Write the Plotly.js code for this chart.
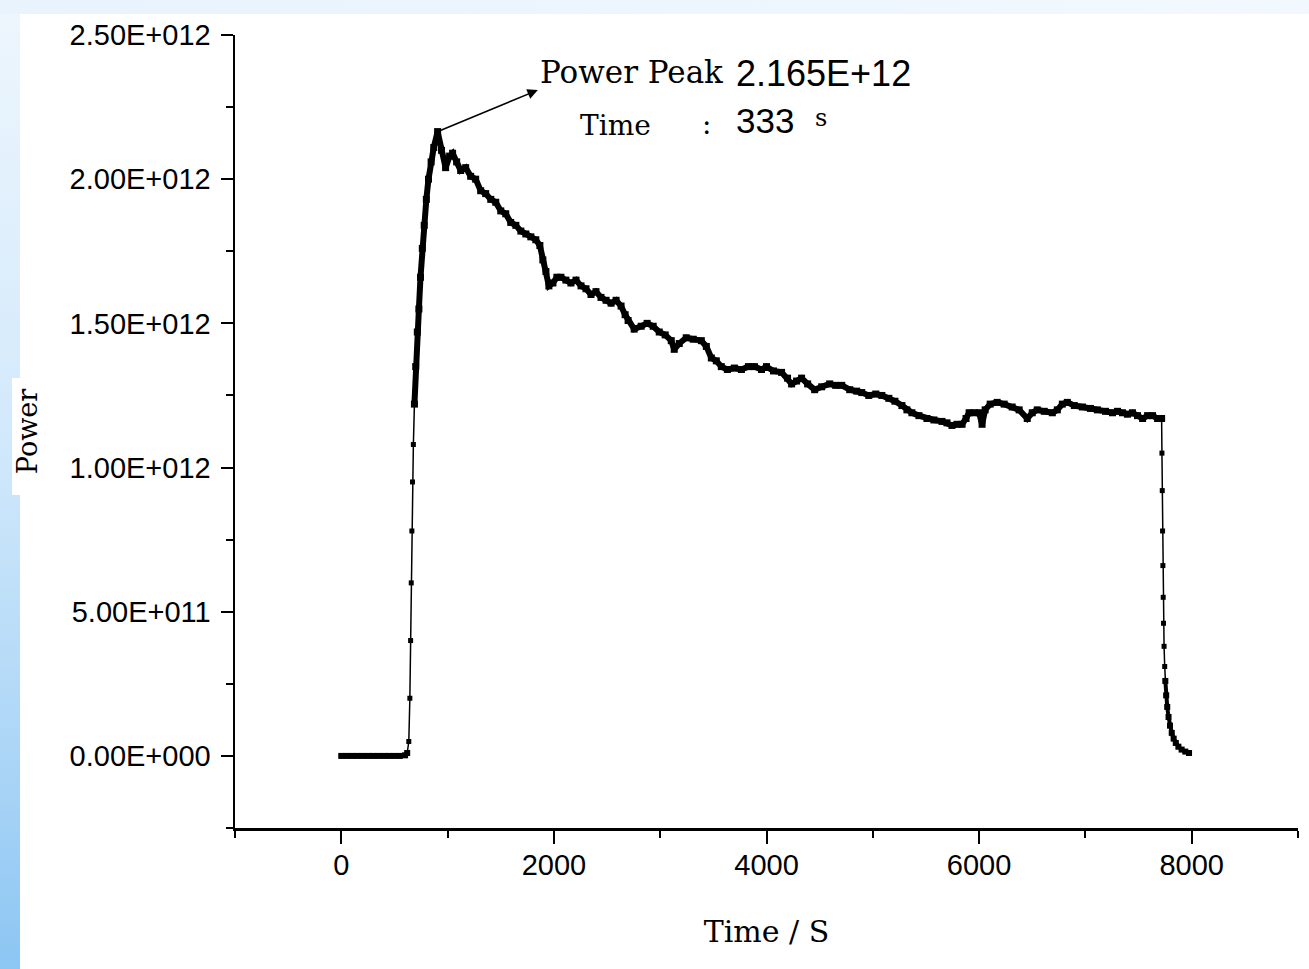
<!DOCTYPE html>
<html>
<head>
<meta charset="utf-8">
<script src="https://cdn.plot.ly/plotly-3.0.1.min.js"></script>
<style>
  html, body { margin: 0; padding: 0; }
  #frame {
    position: relative; width: 1309px; height: 969px; overflow: hidden;
    background: linear-gradient(to bottom, #eef6fd 0%, #d2e9fb 45%, #a9d4f6 80%, #8cc6f3 100%);
  }
  #topstrip {
    position: absolute; left: 0; top: 0; width: 1309px; height: 14px;
    background: linear-gradient(to right, #e8f3fd 0%, #f2f8fe 100%);
  }
  #white { position: absolute; left: 20px; top: 14px; width: 1289px; height: 955px; background: #fff; }
  #titlebox { position: absolute; left: 12px; top: 378px; width: 40px; height: 117px; background: #fff; }
  #chart { position: absolute; left: 0; top: 0; width: 1309px; height: 969px; }
</style>
</head>
<body>
<div id="frame"><div id="topstrip"></div><div id="white"></div><div id="titlebox"></div><div id="chart"></div></div>
<script>
// Time in seconds
const timeS = [
  0, 50, 100, 150, 200, 250, 300, 350, 400, 450, 500, 550, 600, 620,
  635, 645, 652, 658, 664, 670, 678, 688, 700, 715, 730, 745, 762, 780, 800, 820, 845, 870, 906,
  943, 981, 1019, 1047, 1085, 1123, 1170, 1217, 1264, 1311, 1358, 1406, 1453, 1500, 1547, 1594,
  1642, 1689, 1736, 1783, 1830, 1868, 1896, 1925, 1953, 1991, 2028, 2066, 2113, 2160, 2208, 2255,
  2302, 2349, 2396, 2443, 2491, 2538, 2585, 2632, 2670, 2698, 2755, 2821, 2877, 2934, 2991, 3047,
  3104, 3132, 3179, 3245, 3311, 3387, 3434, 3481, 3528, 3575, 3632, 3698, 3764, 3830, 3887, 3953,
  4000, 4066, 4142, 4198, 4236, 4283, 4330, 4387, 4453, 4519, 4594, 4651, 4708, 4783, 4849, 4896,
  4962, 5028, 5085, 5151, 5208, 5274, 5321, 5368, 5434, 5509, 5575, 5651, 5698, 5745, 5792, 5840,
  5877, 5906, 5953, 6000, 6028, 6057, 6104, 6170, 6236, 6311, 6377, 6453, 6500, 6547, 6613, 6689,
  6736, 6783, 6830, 6896, 6972, 7047, 7113, 7189, 7255, 7302, 7349, 7396, 7443, 7490, 7538, 7585,
  7632, 7679, 7717,
  7720, 7723, 7726, 7729, 7732, 7735, 7740, 7746, 7752, 7760, 7770, 7782, 7796, 7812, 7830, 7850,
  7875, 7905, 7940, 7975
];
// Power in units of 1E+12
const powerTW = [
  0, 0, 0, 0, 0, 0, 0, 0, 0, 0, 0, 0, 0.002, 0.01,
  0.05, 0.2, 0.4, 0.6, 0.78, 0.95, 1.08, 1.22, 1.35, 1.47, 1.55, 1.66, 1.76, 1.84, 1.93, 2.0, 2.06, 2.11, 2.165,
  2.10, 2.04, 2.08, 2.09, 2.06, 2.03, 2.04, 2.01, 2.00, 1.96, 1.95, 1.93, 1.92, 1.89, 1.88, 1.85,
  1.84, 1.82, 1.81, 1.80, 1.79, 1.77, 1.72, 1.68, 1.63, 1.64, 1.66, 1.66, 1.65, 1.64, 1.65, 1.63,
  1.62, 1.60, 1.61, 1.59, 1.58, 1.57, 1.58, 1.56, 1.53, 1.51, 1.48, 1.49, 1.50, 1.49, 1.47, 1.46,
  1.44, 1.41, 1.43, 1.45, 1.445, 1.44, 1.42, 1.38, 1.37, 1.35, 1.34, 1.345, 1.34, 1.35, 1.35, 1.34,
  1.35, 1.335, 1.33, 1.31, 1.29, 1.30, 1.31, 1.29, 1.27, 1.28, 1.29, 1.285, 1.285, 1.27, 1.265, 1.26,
  1.25, 1.255, 1.25, 1.24, 1.23, 1.215, 1.20, 1.19, 1.18, 1.17, 1.165, 1.16, 1.155, 1.146, 1.15, 1.15,
  1.17, 1.19, 1.19, 1.19, 1.15, 1.20, 1.22, 1.226, 1.22, 1.21, 1.20, 1.17, 1.19, 1.20, 1.195, 1.19,
  1.20, 1.22, 1.226, 1.215, 1.21, 1.205, 1.20, 1.195, 1.19, 1.195, 1.19, 1.185, 1.19, 1.18, 1.17, 1.18,
  1.18, 1.17, 1.17,
  1.05, 0.92, 0.78, 0.66, 0.55, 0.46, 0.38, 0.31, 0.26, 0.21, 0.17, 0.135, 0.105, 0.08, 0.06, 0.045,
  0.032, 0.022, 0.015, 0.01
];
const yTickVals = [0, 0.5, 1.0, 1.5, 2.0, 2.5];
const yTickText = ["0.00E+000", "5.00E+011", "1.00E+012", "1.50E+012", "2.00E+012", "2.50E+012"];
const xTickVals = [0, 2000, 4000, 6000, 8000];
const xTickText = ["0", "2000", "4000", "6000", "8000"];
const peakTime = 906, peakPower = 2.165;

const serif = "DejaVu Serif, Liberation Serif, serif";
const sans = "Liberation Sans, Arial, sans-serif";

// sections drawn with a heavier stroke (dense record segments)
function section(t0, t1) {
  const xs = [], ys = [];
  timeS.forEach((t, i) => { if (t >= t0 && t <= t1) { xs.push(t); ys.push(powerTW[i]); } });
  return {xs, ys};
}
const flat = section(0, 620);
const plateau = section(688, 7717);
const tail = section(7752, 8000);

const base = {
  x: timeS, y: powerTW, type: 'scatter', mode: 'lines+markers',
  line: {color: '#000', width: 1.5},
  marker: {symbol: 'square', size: 5, color: '#000'},
  hoverinfo: 'skip', showlegend: false
};
function heavy(s, w, m) {
  return {x: s.xs, y: s.ys, type: 'scatter', mode: 'lines+markers',
    line: {color: '#000', width: w}, marker: {symbol: 'square', size: m, color: '#000'},
    hoverinfo: 'skip', showlegend: false};
}

const layout = {
  width: 1309, height: 969,
  margin: {l: 235, r: 11, t: 35, b: 141},
  paper_bgcolor: 'rgba(0,0,0,0)', plot_bgcolor: '#ffffff',
  showlegend: false,
  xaxis: {
    range: [-1000, 9000], showgrid: false, zeroline: false,
    showline: true, linecolor: '#000', linewidth: 2.5,
    tickmode: 'array', tickvals: xTickVals, ticktext: xTickText,
    ticks: 'outside', ticklen: 13, tickwidth: 2, tickcolor: '#000',
    minor: {tickmode: 'linear', tick0: -1000, dtick: 2000, ticks: 'outside', ticklen: 7, tickwidth: 2, tickcolor: '#000'},
    tickfont: {family: sans, size: 29, color: '#000'},
    ticklabelstandoff: -3,
    title: {text: 'Time / S', font: {family: serif, size: 30, color: '#000'}, standoff: 41}
  },
  yaxis: {
    range: [-0.25, 2.5], showgrid: false, zeroline: false,
    showline: true, linecolor: '#000', linewidth: 2.5,
    tickmode: 'array', tickvals: yTickVals, ticktext: yTickText,
    ticks: 'outside', ticklen: 12, tickwidth: 2, tickcolor: '#000',
    minor: {tickmode: 'linear', tick0: -0.25, dtick: 0.5, ticks: 'outside', ticklen: 7, tickwidth: 2, tickcolor: '#000'},
    tickfont: {family: sans, size: 29, color: '#000'},
    ticklabelstandoff: 4,
    title: {text: 'Power', font: {family: serif, size: 27, color: '#000'}, standoff: 24}
  },
  annotations: [
    {x: 1849, y: 2.309, ax: peakTime, ay: peakPower, xref: 'x', yref: 'y', axref: 'x', ayref: 'y',
     text: '', showarrow: true, arrowhead: 2, arrowsize: 1.3, arrowwidth: 1.6, arrowcolor: '#000'},
    {x: 1855, y: 2.372, xref: 'x', yref: 'y', xanchor: 'left', yanchor: 'middle', showarrow: false,
     text: 'Power Peak', font: {family: serif, size: 31, color: '#000'}},
    {x: 3690, y: 2.365, xref: 'x', yref: 'y', xanchor: 'left', yanchor: 'middle', showarrow: false,
     text: '2.165E+12', font: {family: sans, size: 36, color: '#000'}},
    {x: 2230, y: 2.1875, xref: 'x', yref: 'y', xanchor: 'left', yanchor: 'middle', showarrow: false,
     text: 'Time', font: {family: serif, size: 28, color: '#000'}},
    {x: 3370, y: 2.19, xref: 'x', yref: 'y', xanchor: 'left', yanchor: 'middle', showarrow: false,
     text: ':', font: {family: serif, size: 28, color: '#000'}},
    {x: 3690, y: 2.205, xref: 'x', yref: 'y', xanchor: 'left', yanchor: 'middle', showarrow: false,
     text: '333', font: {family: sans, size: 35, color: '#000'}},
    {x: 4440, y: 2.212, xref: 'x', yref: 'y', xanchor: 'left', yanchor: 'middle', showarrow: false,
     text: 's', font: {family: serif, size: 24, color: '#000'}}
  ]
};

Plotly.newPlot('chart', [base, heavy(flat, 4, 6), heavy(plateau, 6, 7), heavy(tail, 4, 6)], layout,
  {displayModeBar: false, staticPlot: true});
</script>
</body>
</html>
